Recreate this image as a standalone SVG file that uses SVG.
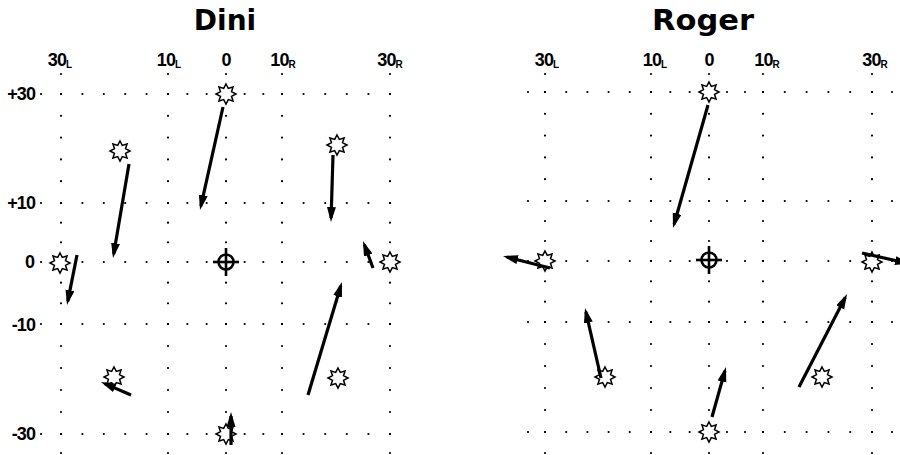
<svg xmlns="http://www.w3.org/2000/svg" width="900" height="455" viewBox="0 0 900 455">
<style>
.bg{fill:#fff}
.g path{fill:none;stroke:#000;stroke-width:2.2;stroke-linecap:round;stroke-dasharray:0.001 0.999;stroke-dashoffset:0.0005}
.title{font-family:"DejaVu Sans","Liberation Sans",sans-serif;font-weight:bold;font-size:28px;fill:#000;text-anchor:middle}
.lab{font-family:"Liberation Sans",Arial,sans-serif;font-weight:bold;font-size:18px;letter-spacing:-0.9px;fill:#000}
.col{text-anchor:middle}
.row{text-anchor:end}
.sub{font-size:10px;letter-spacing:0}
.star{fill:#fff;stroke:#000;stroke-width:1.5;stroke-linejoin:miter}
.fix circle{fill:none;stroke:#000;stroke-width:2.6}
.fix line{stroke:#000;stroke-width:2.6}
.arr path{fill:none;stroke:#000;stroke-width:3.2;stroke-linecap:butt;marker-end:url(#ah)}
</style>
<defs>
<marker id="ah" markerUnits="userSpaceOnUse" markerWidth="18" markerHeight="10" refX="11" refY="4.5" orient="auto">
<path d="M0,0 L15,4.5 L0,9 z" fill="#000"/>
</marker>
<polygon id="star" class="star" points="0,-10 2.3,-5.54 7.07,-7.07 5.54,-2.3 10,0 5.54,2.3 7.07,7.07 2.3,5.54 0,10 -2.3,5.54 -7.07,7.07 -5.54,2.3 -10,0 -5.54,-2.3 -7.07,-7.07 -2.3,-5.54"/>
<g id="fixmark" class="fix">
<circle cx="0" cy="0" r="7.5"/>
<line x1="-13" y1="0" x2="13" y2="0"/>
<line x1="0" y1="-14" x2="0" y2="14"/>
</g>
</defs>
<rect class="bg" x="0" y="0" width="900" height="455"/>

<!-- Dini panel grid -->
<g id="dini-grid" class="g">
<path pathLength="1" d="M41 94H61"/><path pathLength="5" d="M61 94H168"/><path pathLength="3" d="M168 94H226"/><path pathLength="3" d="M226 94H282"/><path pathLength="5" d="M282 94H390"/>
<path pathLength="1" d="M41 203H61"/><path pathLength="5" d="M61 203H168"/><path pathLength="3" d="M168 203H226"/><path pathLength="3" d="M226 203H282"/><path pathLength="5" d="M282 203H390"/>
<path pathLength="1" d="M41 262H61"/><path pathLength="5" d="M61 262H168"/><path pathLength="3" d="M168 262H226"/><path pathLength="3" d="M226 262H282"/><path pathLength="5" d="M282 262H390"/>
<path pathLength="1" d="M41 324H61"/><path pathLength="5" d="M61 324H168"/><path pathLength="3" d="M168 324H226"/><path pathLength="3" d="M226 324H282"/><path pathLength="5" d="M282 324H390"/>
<path pathLength="1" d="M41 434H61"/><path pathLength="5" d="M61 434H168"/><path pathLength="3" d="M168 434H226"/><path pathLength="3" d="M226 434H282"/><path pathLength="5" d="M282 434H390"/>
<path pathLength="1" d="M61 74V94"/><path pathLength="5" d="M61 94V203"/><path pathLength="3" d="M61 203V262"/><path pathLength="3" d="M61 262V324"/><path pathLength="5" d="M61 324V434"/><path pathLength="1" d="M61 434V453"/>
<path pathLength="1" d="M168 74V94"/><path pathLength="5" d="M168 94V203"/><path pathLength="3" d="M168 203V262"/><path pathLength="3" d="M168 262V324"/><path pathLength="5" d="M168 324V434"/><path pathLength="1" d="M168 434V453"/>
<path pathLength="1" d="M226 74V94"/><path pathLength="5" d="M226 94V203"/><path pathLength="3" d="M226 203V262"/><path pathLength="3" d="M226 262V324"/><path pathLength="5" d="M226 324V434"/><path pathLength="1" d="M226 434V453"/>
<path pathLength="1" d="M282 74V94"/><path pathLength="5" d="M282 94V203"/><path pathLength="3" d="M282 203V262"/><path pathLength="3" d="M282 262V324"/><path pathLength="5" d="M282 324V434"/><path pathLength="1" d="M282 434V453"/>
<path pathLength="1" d="M390 74V94"/><path pathLength="5" d="M390 94V203"/><path pathLength="3" d="M390 203V262"/><path pathLength="3" d="M390 262V324"/><path pathLength="5" d="M390 324V434"/><path pathLength="1" d="M390 434V453"/>
</g>

<!-- Roger panel grid -->
<g id="roger-grid" class="g">
<path pathLength="1" d="M528 92H545"/><path pathLength="5" d="M545 92H651"/><path pathLength="3" d="M651 92H709"/><path pathLength="3" d="M709 92H763"/><path pathLength="5" d="M763 92H872"/><path pathLength="1" d="M872 92H892"/>
<path pathLength="1" d="M528 201H545"/><path pathLength="5" d="M545 201H651"/><path pathLength="3" d="M651 201H709"/><path pathLength="3" d="M709 201H763"/><path pathLength="5" d="M763 201H872"/><path pathLength="1" d="M872 201H892"/>
<path pathLength="1" d="M528 261H545"/><path pathLength="5" d="M545 261H651"/><path pathLength="3" d="M651 261H709"/><path pathLength="3" d="M709 261H763"/><path pathLength="5" d="M763 261H872"/><path pathLength="1" d="M872 261H892"/>
<path pathLength="1" d="M528 322H545"/><path pathLength="5" d="M545 322H651"/><path pathLength="3" d="M651 322H709"/><path pathLength="3" d="M709 322H763"/><path pathLength="5" d="M763 322H872"/><path pathLength="1" d="M872 322H892"/>
<path pathLength="1" d="M528 432H545"/><path pathLength="5" d="M545 432H651"/><path pathLength="3" d="M651 432H709"/><path pathLength="3" d="M709 432H763"/><path pathLength="5" d="M763 432H872"/><path pathLength="1" d="M872 432H892"/>
<path pathLength="1" d="M545 74V92"/><path pathLength="5" d="M545 92V201"/><path pathLength="3" d="M545 201V261"/><path pathLength="3" d="M545 261V322"/><path pathLength="5" d="M545 322V432"/><path pathLength="1" d="M545 432V453"/>
<path pathLength="1" d="M651 74V92"/><path pathLength="5" d="M651 92V201"/><path pathLength="3" d="M651 201V261"/><path pathLength="3" d="M651 261V322"/><path pathLength="5" d="M651 322V432"/><path pathLength="1" d="M651 432V453"/>
<path pathLength="1" d="M709 74V92"/><path pathLength="5" d="M709 92V201"/><path pathLength="3" d="M709 201V261"/><path pathLength="3" d="M709 261V322"/><path pathLength="5" d="M709 322V432"/><path pathLength="1" d="M709 432V453"/>
<path pathLength="1" d="M763 74V92"/><path pathLength="5" d="M763 92V201"/><path pathLength="3" d="M763 201V261"/><path pathLength="3" d="M763 261V322"/><path pathLength="5" d="M763 322V432"/><path pathLength="1" d="M763 432V453"/>
<path pathLength="1" d="M872 74V92"/><path pathLength="5" d="M872 92V201"/><path pathLength="3" d="M872 201V261"/><path pathLength="3" d="M872 261V322"/><path pathLength="5" d="M872 322V432"/><path pathLength="1" d="M872 432V453"/>
</g>

<!-- Titles and labels -->
<g id="dini-labels">
<text class="title" x="225" y="30">Dini</text>
<text class="lab col" x="60" y="66">30<tspan class="sub" dy="2">L</tspan></text>
<text class="lab col" x="169" y="66">10<tspan class="sub" dy="2">L</tspan></text>
<text class="lab col" x="226" y="66">0</text>
<text class="lab col" x="283" y="66">10<tspan class="sub" dy="2">R</tspan></text>
<text class="lab col" x="390" y="66">30<tspan class="sub" dy="2">R</tspan></text>
<text class="lab row" x="35" y="100">+30</text>
<text class="lab row" x="35" y="209">+10</text>
<text class="lab row" x="34" y="268">0</text>
<text class="lab row" x="35" y="331">-10</text>
<text class="lab row" x="35" y="440">-30</text>
</g>
<g id="roger-labels">
<text class="title" x="703" y="30" textLength="102" lengthAdjust="spacingAndGlyphs">Roger</text>
<text class="lab col" x="547" y="66">30<tspan class="sub" dy="2">L</tspan></text>
<text class="lab col" x="655" y="66">10<tspan class="sub" dy="2">L</tspan></text>
<text class="lab col" x="709" y="66">0</text>
<text class="lab col" x="767" y="66">10<tspan class="sub" dy="2">R</tspan></text>
<text class="lab col" x="875" y="66">30<tspan class="sub" dy="2">R</tspan></text>
</g>

<!-- Fixation marks -->
<g id="dini-fixation"><use href="#fixmark" x="226" y="262"/></g>
<g id="roger-fixation"><use href="#fixmark" x="709" y="260"/></g>

<!-- Targets (stars) -->
<g id="dini-t1"><use href="#star" x="226" y="94"/></g>
<g id="dini-t2"><use href="#star" x="120" y="151"/></g>
<g id="dini-t3"><use href="#star" x="337" y="145"/></g>
<g id="dini-t4"><use href="#star" x="60" y="263"/></g>
<g id="dini-t5"><use href="#star" x="390" y="262"/></g>
<g id="dini-t6"><use href="#star" x="338" y="378"/></g>
<g id="dini-t7"><use href="#star" x="114" y="377"/></g>
<g id="dini-t8"><use href="#star" x="226" y="434"/></g>

<g id="roger-t1"><use href="#star" x="709" y="92"/></g>
<g id="roger-t2"><use href="#star" x="545" y="261"/></g>
<g id="roger-t3"><use href="#star" x="872" y="262"/></g>
<g id="roger-t4"><use href="#star" x="605" y="377"/></g>
<g id="roger-t5"><use href="#star" x="709" y="432"/></g>
<g id="roger-t6"><use href="#star" x="822" y="377"/></g>

<!-- Connectors (arrows) -->
<g id="connectors" class="arr">
<path d="M223 107L200.9 206.1"/>
<path d="M129 164L113.7 254.1"/>
<path d="M333 155L331.1 218"/>
<path d="M77 255L67.8 301.1"/>
<path d="M373 268L364.4 244.7"/>
<path d="M308 395L340.8 285.8"/>
<path d="M131 395L104.7 383.6"/>
<path d="M231 445L231 416"/>
<path d="M708 105L674.1 224.2"/>
<path d="M550 268L506.9 257"/>
<path d="M862 253L906 263"/>
<path d="M601 378L585.9 311.9"/>
<path d="M712 417L724.9 370.9"/>
<path d="M799 387L845.2 297.6"/>
</g>
</svg>
